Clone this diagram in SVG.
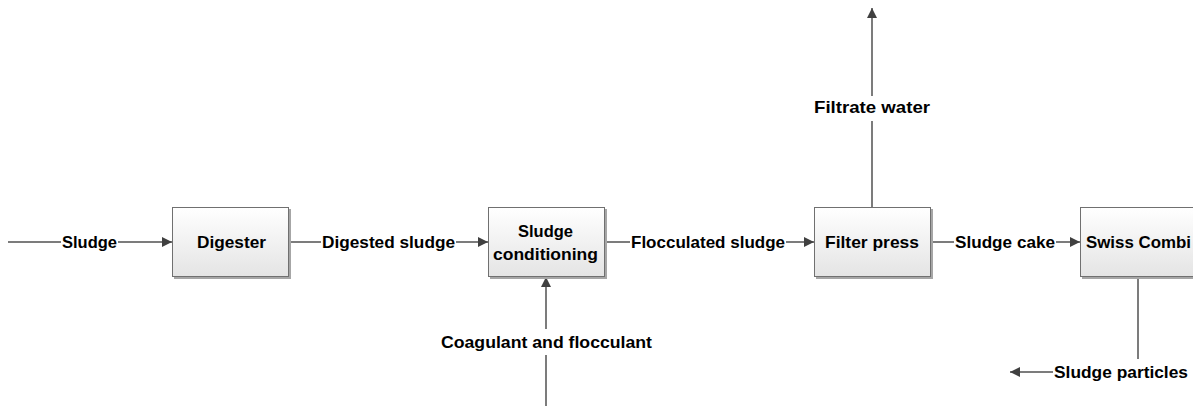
<svg xmlns="http://www.w3.org/2000/svg" width="1193" height="406" viewBox="0 0 1193 406">
<defs>
<linearGradient id="g" x1="0" y1="0" x2="0" y2="1"><stop offset="0" stop-color="#ffffff"/><stop offset="1" stop-color="#e4e4e4"/></linearGradient>
<marker id="ah" viewBox="0 0 10 10" refX="10" refY="5" markerWidth="10" markerHeight="10" markerUnits="userSpaceOnUse" orient="auto"><path d="M0,0 L10,5 L0,10 z" fill="#404040"/></marker>
<style>
.box{fill:url(#g);stroke:#707070;stroke-width:1}
.sh{fill:#a6a6a6}
.t{font-family:"Liberation Sans",Arial,sans-serif;font-weight:bold;font-size:16.5px;fill:#000;text-anchor:middle}
.c{fill:none;stroke:#505050;stroke-width:1.5}
.a{fill:none;stroke:#505050;stroke-width:1.5;marker-end:url(#ah)}
</style>
</defs>
<rect width="1193" height="406" fill="#fff"/>
<g id="connectors">
<line class="c" x1="8" y1="242" x2="61" y2="242"/><line class="a" x1="118" y1="242" x2="172" y2="242"/>
<text class="t" x="89.5" y="248" textLength="55" lengthAdjust="spacingAndGlyphs">Sludge</text>
<line class="c" x1="290" y1="242" x2="321" y2="242"/><line class="a" x1="456" y1="242" x2="488" y2="242"/>
<text class="t" x="388.5" y="248" textLength="133" lengthAdjust="spacingAndGlyphs">Digested sludge</text>
<line class="c" x1="605" y1="242" x2="630" y2="242"/><line class="a" x1="786" y1="242" x2="814" y2="242"/>
<text class="t" x="708" y="248" textLength="154" lengthAdjust="spacingAndGlyphs">Flocculated sludge</text>
<line class="c" x1="932" y1="242" x2="954" y2="242"/><line class="a" x1="1056" y1="242" x2="1080" y2="242"/>
<text class="t" x="1005" y="248" textLength="100" lengthAdjust="spacingAndGlyphs">Sludge cake</text>
<line class="c" x1="872" y1="207" x2="872" y2="121"/><line class="a" x1="872" y1="96" x2="872" y2="8"/>
<text class="t" x="872" y="113" textLength="116" lengthAdjust="spacingAndGlyphs">Filtrate water</text>
<line class="c" x1="546" y1="406" x2="546" y2="355"/><line class="a" x1="546" y1="329" x2="546" y2="277"/>
<text class="t" x="546.5" y="348" textLength="211" lengthAdjust="spacingAndGlyphs">Coagulant and flocculant</text>
<line class="c" x1="1138" y1="278" x2="1138" y2="359"/><line class="a" x1="1053" y1="372" x2="1010" y2="372"/>
<text class="t" x="1121" y="378" textLength="134" lengthAdjust="spacingAndGlyphs">Sludge particles</text>
</g>
<g id="digester"><rect class="sh" x="174" y="209" width="117" height="70"/><rect class="box" x="172.5" y="207.5" width="116" height="69"/><text class="t" x="231.5" y="248" textLength="69" lengthAdjust="spacingAndGlyphs">Digester</text></g>
<g id="conditioning"><rect class="sh" x="490" y="209" width="117" height="70"/><rect class="box" x="488.5" y="207.5" width="116" height="69"/><text class="t" x="545.5" y="237" textLength="55" lengthAdjust="spacingAndGlyphs">Sludge</text><text class="t" x="545.5" y="260" textLength="105" lengthAdjust="spacingAndGlyphs">conditioning</text></g>
<g id="filterpress"><rect class="sh" x="816" y="209" width="117" height="70"/><rect class="box" x="814.5" y="207.5" width="116" height="69"/><text class="t" x="872" y="248" textLength="94" lengthAdjust="spacingAndGlyphs">Filter press</text></g>
<g id="swisscombi"><rect class="sh" x="1082" y="209" width="117" height="70"/><rect class="box" x="1080.5" y="207.5" width="116" height="69"/><text class="t" x="1138.5" y="248" textLength="105" lengthAdjust="spacingAndGlyphs">Swiss Combi</text></g>
</svg>
